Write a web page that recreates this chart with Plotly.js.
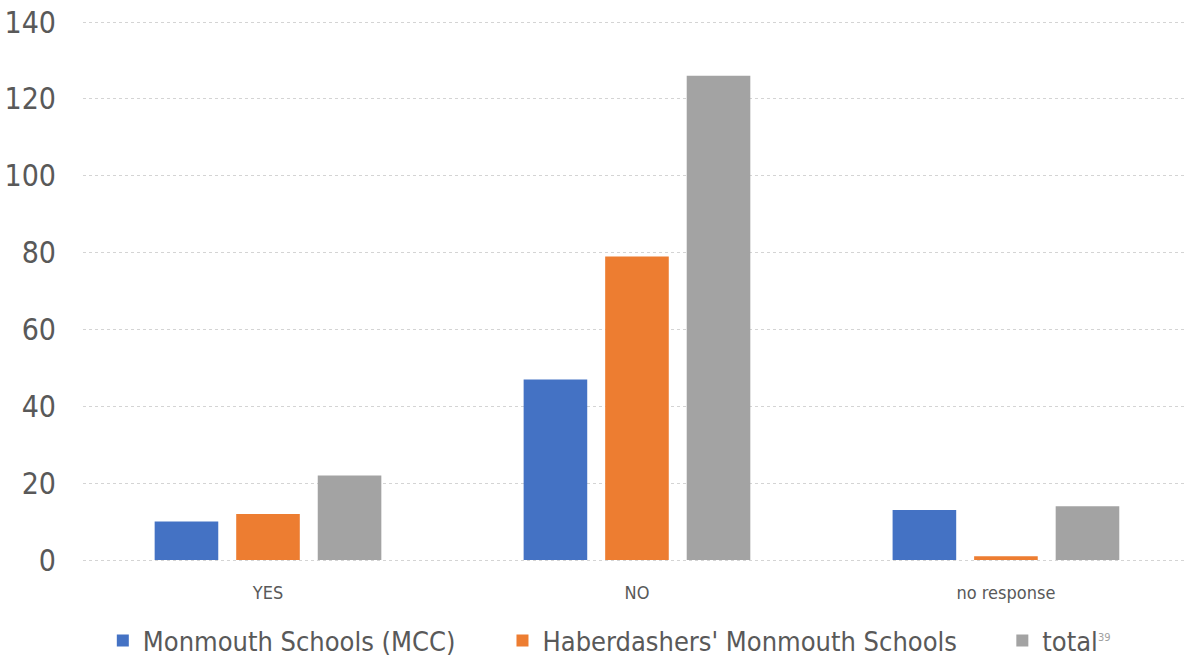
<!DOCTYPE html>
<html>
<head>
<meta charset="utf-8">
<script src="https://cdn.plot.ly/plotly-3.0.1.min.js"></script>
<style>html,body{margin:0;padding:0;background:#fff;}#chart{width:1184px;height:659px;}</style>
</head>
<body>
<div id="chart"></div>
<script>
const categories = ["YES", "NO", "no response"];
const seriesNames = ["Monmouth Schools (MCC)", "Haberdashers' Monmouth Schools", "total"];
const mccValues = [10, 47, 13];
const hmsValues = [12, 79, 1];
const totalValues = [22, 126, 14];
const yTickValues = [0, 20, 40, 60, 80, 100, 120, 140];
const slideNumber = "39";

const FONT = "DejaVu Sans Condensed, DejaVu Sans, sans-serif";
const TXT = "#595959";

const traces = [
  {type: "bar", name: seriesNames[0], x: categories, y: mccValues, marker: {color: "#4472C4"}, legend: "legend"},
  {type: "bar", name: seriesNames[1], x: categories, y: hmsValues, marker: {color: "#ED7D31"}, legend: "legend2"},
  {type: "bar", name: seriesNames[2], x: categories, y: totalValues, marker: {color: "#A3A3A3"}, legend: "legend3"}
];

const legendBase = {orientation: "h", yanchor: "middle", xanchor: "left", yref: "container", y: 0.0273,
  bgcolor: "rgba(0,0,0,0)", font: {family: FONT, size: 27, color: TXT}, itemclick: false};

const layout = {
  width: 1184, height: 659,
  margin: {l: 83, r: 0, t: 18, b: 95, autoexpand: false},
  paper_bgcolor: "#fff", plot_bgcolor: "#fff",
  barmode: "group", bargap: 0.337, bargroupgap: 0.22,
  showlegend: true,
  font: {family: FONT, color: TXT},
  xaxis: {type: "category", range: [-0.5014, 2.4826], showgrid: false, zeroline: false, showline: false,
    ticks: "", tickfont: {family: FONT, size: 18, color: TXT}, ticklabelstandoff: 16, fixedrange: true},
  yaxis: {range: [-1.04, 141.04], tickvals: yTickValues, showgrid: true, gridcolor: "#d4d4d4", griddash: "dot", gridwidth: 1,
    zeroline: false, showline: false, ticks: "", tickfont: {family: FONT, size: 30, color: TXT},
    ticklabelstandoff: 26, fixedrange: true},
  legend: Object.assign({}, legendBase, {x: 0.018}),
  legend2: Object.assign({}, legendBase, {x: 0.381}),
  legend3: Object.assign({}, legendBase, {x: 0.835}),
  annotations: [{text: slideNumber, xref: "paper", yref: "paper", x: 0.9205, y: -0.1355, xanchor: "left", yanchor: "middle",
    showarrow: false, font: {family: FONT, size: 11, color: "#a0a0a0"}}]
};

Plotly.newPlot("chart", traces, layout, {displayModeBar: false, staticPlot: true});
</script>
</body>
</html>
